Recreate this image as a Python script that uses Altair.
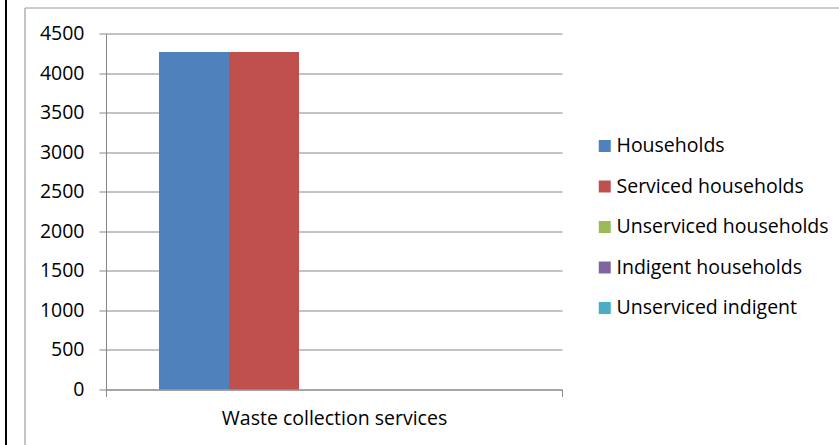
import altair as alt
import pandas as pd

categories = ["Waste collection services"]
series = ["Households", "Serviced households", "Unserviced households",
          "Indigent households", "Unserviced indigent"]
values = [4266, 4266, 0, 0, 0]
colors = ["#4F81BD", "#C0504D", "#9BBB59", "#8064A2", "#4BACC6"]
y_ticks = [0, 500, 1000, 1500, 2000, 2500, 3000, 3500, 4000, 4500]

df = pd.DataFrame({
    "category": [categories[0]] * len(series),
    "series": series,
    "value": values,
})

FONT = "Open Sans"
FS = 19.5
GRID = "#868686"
PL, PT = 106, 33.5
W, H = 456, 356
TW, TH = 839, 445

bars = alt.Chart(df).mark_bar().encode(
    x=alt.X("category:N", title=None,
            scale=alt.Scale(paddingInner=0, paddingOuter=0),
            axis=alt.Axis(labelAngle=0, grid=False, tickBand="extent",
                          tickSize=7, tickColor=GRID, domainColor=GRID,
                          labelFontSize=FS, labelFont=FONT, labelColor="black",
                          labelPadding=12.5, labelLimit=400)),
    xOffset=alt.XOffset("series:N", sort=series,
                        scale=alt.Scale(paddingInner=0, paddingOuter=0.757)),
    y=alt.Y("value:Q", title=None,
            scale=alt.Scale(domain=[0, 4500], nice=False),
            axis=alt.Axis(values=y_ticks, format="d", grid=True, gridColor=GRID,
                          tickSize=7, tickColor=GRID, domainColor=GRID,
                          labelFontSize=FS, labelFont=FONT, labelColor="black",
                          labelPadding=15)),
    color=alt.Color("series:N", sort=series,
                    scale=alt.Scale(domain=series, range=colors),
                    legend=alt.Legend(title=None, orient="none",
                                      legendX=489, legendY=102.75,
                                      symbolType="square", symbolSize=144,
                                      symbolStrokeWidth=0, labelFontSize=FS,
                                      labelFont=FONT, labelColor="black",
                                      labelOffset=2, rowPadding=19.5,
                                      labelLimit=400)),
)

frame = alt.Data(values=[{}])
top_border = alt.Chart(frame).mark_rule(color="#9a9a9a", strokeWidth=1).encode(
    x=alt.value(25 - PL), x2=alt.value(TW - PL), y=alt.value(8 - PT))
left_border = alt.Chart(frame).mark_rule(color="#b0b0b0", strokeWidth=1.5).encode(
    x=alt.value(25 - PL), y=alt.value(8 - PT), y2=alt.value(TH - PT))
black_line = alt.Chart(frame).mark_rule(color="black", strokeWidth=2).encode(
    x=alt.value(6 - PL), y=alt.value(-PT), y2=alt.value(TH - PT))

chart = alt.layer(bars, top_border, left_border, black_line).properties(
    width=W, height=H,
    autosize=alt.AutoSizeParams(type="none"),
    padding={"left": PL, "top": PT, "right": TW - PL - W, "bottom": TH - PT - H},
    background="white",
).configure_view(stroke=None)

chart.save("out.html", embed_options={"renderer": "svg", "actions": False})
